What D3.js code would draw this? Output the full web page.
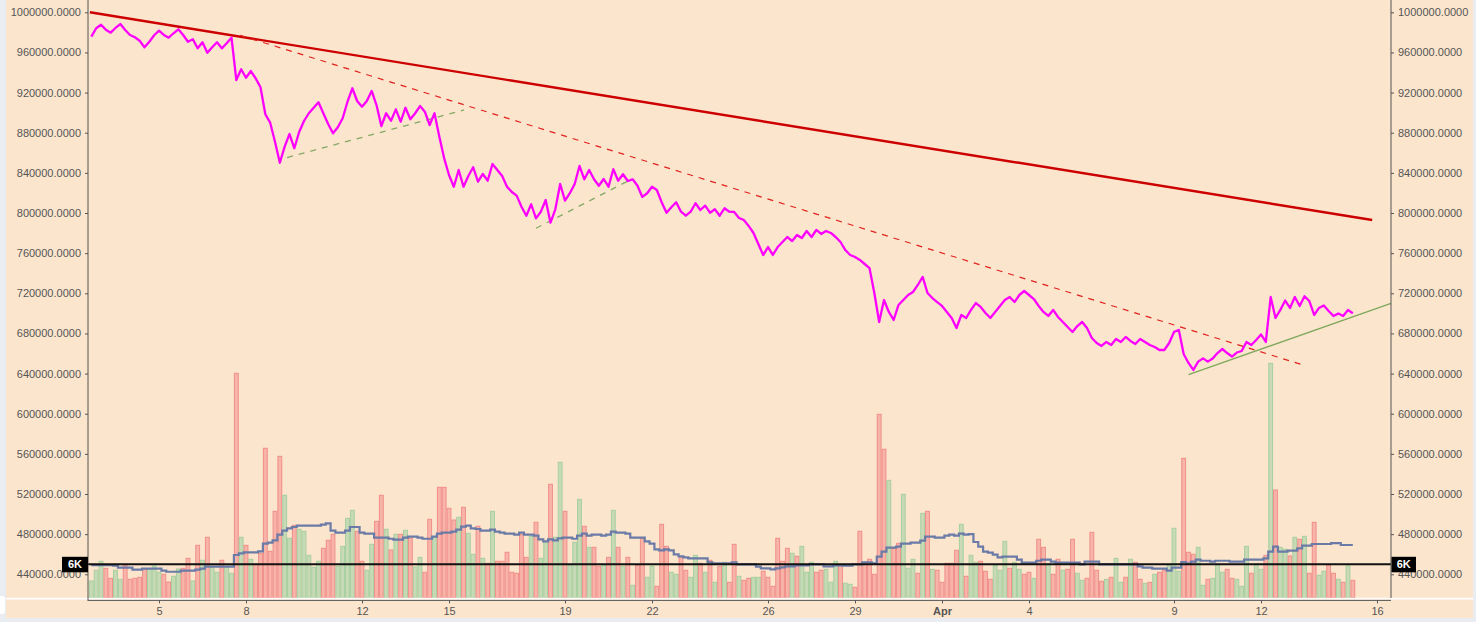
<!DOCTYPE html>
<html><head><meta charset="utf-8">
<script src="https://cdn.jsdelivr.net/npm/d3@7/dist/d3.min.js"></script>
<style>
html,body{margin:0;padding:0;background:#e9edf1;overflow:hidden;}
svg{display:block;}
text{font-family:"Liberation Sans",Arial,sans-serif;}
</style></head><body>
<svg id="c" width="1476" height="622"></svg>
<script>
// ---- data: 4-hour bars, BTC/JPY, starting 2018-03-02 16:00 UTC ----
const startTime = Date.UTC(2018, 2, 2, 16);
const stepHours = 4;

const closePrice = [
975700,984100,987600,982700,979700,984400,988300,982400,977400,975100,
971700,965100,970700,977100,981700,977400,974700,979100,983100,977400,
970700,973100,964100,970100,959700,965100,970100,964100,969100,974700,
932500,943200,934800,941500,934200,925300,898400,890000,871100,850100,
866100,878700,864500,880700,891700,899400,904900,910300,899400,888700,
879400,885400,894400,910900,924300,911600,905900,911600,921600,907600,
886700,899400,892000,903300,891000,904900,893400,899400,906600,901000,
887700,899400,876000,854500,837900,826200,842900,826200,836900,845600,
831200,838900,832200,848800,842900,836900,826200,820900,817300,806300,
797300,808700,794700,801300,813000,790400,803700,828900,812300,819700,
828900,846900,833600,842900,833600,827200,833900,826200,843600,832200,
838600,831900,833600,827200,816000,819700,826200,822900,810700,800300,
805700,810700,801300,797300,801300,809700,803000,807300,800300,803700,
797300,804700,801300,801000,795000,793000,787100,780100,769100,758100,
766100,758200,766100,771100,776100,772100,778100,775100,782100,776100,
783100,779100,782100,780100,776100,771100,763100,758200,756200,753200,
749200,745200,720300,691400,713300,701400,693400,708400,713300,718300,
721300,728300,736300,720300,715300,711300,707400,701400,695400,685400,
698400,695400,703400,710300,706400,700400,695400,701400,707400,713300,
716300,711300,718300,722300,718300,714300,707400,701400,697400,703400,
696400,691400,686400,681500,687400,691400,685400,675500,670500,667500,
671500,668500,674500,671500,676500,672500,669500,674500,671500,668500,
666500,663500,663500,670500,681500,683400,659500,650600,643600,651900,
655200,651900,655000,660500,664500,660500,657000,661000,662500,671500,
668500,673500,679000,671500,716300,695400,703400,712800,705400,716300,
707400,717000,712300,698400,705400,707900,702400,697400,699900,697400,
703400,700100];

const volume = [
3010,4930,6540,5280,3490,4930,3310,5750,3310,3490,
3670,5160,5160,5700,4570,4210,2830,3850,5160,5280,
7070,3010,9400,6720,10840,5460,4570,6720,5570,4390,
40210,10840,9400,6900,6050,7970,26780,8330,15490,25340,
18360,10660,12980,12270,11910,7610,5460,6540,8870,10300,
11370,5640,9220,14240,15670,11910,6540,4930,9580,13700,
18360,12270,8560,11370,11370,12090,10660,5520,7250,4570,
14060,10840,19790,19790,16030,13930,14420,16210,11550,7790,
12810,7070,6180,15490,6540,6540,8150,4570,4390,11370,
7250,11010,13520,7070,10120,20330,10840,24270,15490,5870,
9940,17640,12810,9040,9040,5640,5820,7250,15670,9040,
5640,7250,2240,5820,10660,3670,5640,2060,13160,9220,
4570,4210,7250,4930,3670,7610,6180,4570,6720,2780,
5640,6360,2780,9580,3850,3130,3490,3670,3670,4750,
3670,2060,10660,6540,8870,7970,7430,9220,4570,6360,
4570,4930,5100,2780,6540,5820,2600,2420,1880,11910,
6180,6900,4210,32870,26600,21040,8870,9760,18540,5280,
6900,4390,15130,15490,5100,4930,2780,6180,6180,8510,
13160,3850,7610,6360,6540,4750,3310,5820,4930,10120,
5280,6360,5100,4210,4570,3490,10480,9040,6000,4210,
6900,4930,5100,10480,4390,3130,3490,11730,4930,2960,
3310,3670,7070,2780,3670,6900,6360,3310,2600,2780,
4210,4570,4930,5820,12450,4750,24980,8150,7790,9040,
2240,3310,3490,6000,4570,5100,3490,3310,2060,9220,
4390,6000,5100,7610,42000,19310,9040,8690,7490,10840,
10480,11010,4390,13520,4030,4750,5870,4390,3310,2780,
5700,3130];

// g = up bar, r = down bar
const barDirection = (
"gggrrggrrr"+"rrgggrrggr"+"rgrgrggrgg"+"rgrgrrrrrr"+"ggrgggggrr"+
"rggggrrggr"+"rgrgrgrggr"+"rgrrrrgrgg"+"rgrgrrrrrr"+"rgrggrggrg"+
"ggrgrrgrgr"+"grgrrggrrr"+"ggrrggrgrg"+"rgrrgrrggr"+"rrrrrgrggg"+
"rrgggrggrr"+"rrrrrgrrgg"+"grgrgrrrrr"+"grggrrrggg"+"rggrrgrrgr"+
"rgrrggrrrr"+"grggrgrrgr"+"grrgggrrrg"+"grgggrrggg"+"rggrgrggrg"+
"rgrrggrrgr"+"gr").split("");

const volumeMA = [
5870,5870,5870,5870,5870,5750,5390,5390,5390,5030,
5030,5210,5210,5210,5210,4850,4670,4670,4670,4850,
4850,4850,5030,5210,5570,5570,5570,5570,5570,5570,
7670,7970,8150,8150,8150,8330,9690,9870,10300,11300,
12020,12450,12680,12910,12910,12910,12910,12910,13090,13340,
12020,11660,11660,12020,12680,12680,11660,11480,11480,10760,
10760,10760,10580,10410,10410,10760,10940,10940,10760,10580,
10580,10940,11480,11660,11660,11840,12200,12730,12910,12450,
12320,12020,12020,12200,11840,11660,11480,11480,11300,11660,
11300,11300,11120,10480,10120,10480,10300,10660,10760,10760,
10580,11120,11480,11120,11300,11300,11120,11300,11840,11660,
11660,11480,10760,10760,10760,10120,9690,8690,8510,8690,
8510,7790,7430,7250,7070,7070,7070,7070,6360,6180,
6180,6180,6180,6360,6000,6000,6000,6000,5570,5280,
5280,5100,5280,5460,5640,5640,5820,5820,5820,6000,
6000,6000,5640,5640,5820,5820,5750,5750,6000,6000,
6360,6360,6180,7360,8260,8970,8970,9150,9690,9690,
9870,9870,10230,10940,10940,10760,10760,11120,11300,11120,
11480,11300,11400,9990,9150,8260,8080,7720,7250,7360,
7360,7360,6820,6290,6290,6290,6640,6820,6820,6470,
6290,6290,6290,6290,6290,6000,6470,6470,6470,6000,
6000,6000,6000,6000,6000,6000,6000,5640,5390,5390,
5210,5210,5210,4850,5390,5390,6410,6110,6470,6820,
6640,6640,6470,6640,6640,6640,6470,6470,6470,6820,
6820,6820,6820,7070,8260,9150,8260,8260,8440,8440,
8870,9330,9330,9640,9640,9640,9640,9810,9810,9460,
9460,9460];

const priceTicks = [440000,480000,520000,560000,600000,640000,680000,720000,760000,800000,840000,880000,920000,960000,1000000];
const dateTickDays = ["2018-03-05","2018-03-08","2018-03-12","2018-03-15","2018-03-19","2018-03-22","2018-03-26","2018-03-29","2018-04-01","2018-04-04","2018-04-09","2018-04-12","2018-04-16"];
const dateTickLabels = ["5","8","12","15","19","22","26","29","Apr","4","9","12","16"];
const volumeLevel = 6000;
const volumeLevelLabel = "6K";

// trend lines: [bar index (fractional), price]
const trendMain   = [[-0.3, 1000000], [265.0, 793000]];
const trendDashed = [[30.8, 977000], [250.7, 648600]];
const supportA    = [[40.5, 855300], [77.1, 902700]];
const supportB    = [[92.0, 784800], [111.45, 832900]];
const supportC    = [[227.0, 638900], [268.9, 710000]];

// ---- drawing ----
const svg = d3.select("#c");
const L = 88, R = 1391;
const H4 = stepHours * 3600 * 1000;
const dateOf = i => new Date(startTime + i * H4);

const x = d3.scaleUtc().domain([new Date(Date.UTC(2018,2,5)), new Date(Date.UTC(2018,3,16))]).range([159, 1377]);
const y = d3.scaleLinear().domain([440000, 1000000]).range([574.3, 12.3]);
const yv = d3.scaleLinear().domain([0, 6000]).range([597.8, 564.3]);

svg.append("rect").attr("x", 6).attr("y", 0).attr("width", 1467).attr("height", 618).attr("fill", "#fce5cd");
svg.append("rect").attr("x", -4).attr("y", 596).attr("width", 9).attr("height", 18).attr("rx", 3).attr("fill", "#ffffff");

const bars = closePrice.map((p, i) => ({i, date: dateOf(i), price: p, vol: volume[i], dir: barDirection[i], ma: volumeMA[i]}));
const bw = x(dateOf(1)) - x(dateOf(0));

// volume bars
svg.append("g").selectAll("rect").data(bars).join("rect")
  .attr("x", d => x(d.date) - bw / 2 + 0.5)
  .attr("width", bw - 1)
  .attr("y", d => yv(d.vol))
  .attr("height", d => yv(0) - yv(d.vol))
  .attr("fill", d => d.dir === "g" ? "#c7d9b6" : "#f8b4a8")
  .attr("stroke", d => d.dir === "g" ? "#a6cf9e" : "#f08e8a")
  .attr("stroke-width", 1);

// volume moving average (step)
svg.append("path").datum(bars)
  .attr("d", d3.line().curve(d3.curveStep).x(d => x(d.date)).y(d => yv(d.ma)))
  .attr("fill", "none").attr("stroke", "#6a7ba7").attr("stroke-width", 2.2);

// 6K level line
svg.append("line").attr("x1", L).attr("x2", R).attr("y1", yv(volumeLevel)).attr("y2", yv(volumeLevel))
  .attr("stroke", "#111").attr("stroke-width", 2);

// bottom white band
svg.append("line").attr("x1", 6).attr("x2", 1473).attr("y1", 598.7).attr("y2", 598.7).attr("stroke", "#ffffff").attr("stroke-width", 1.8);

// trend lines
const pt = d => [x(dateOf(d[0])), y(d[1])];
function seg(a, color, w, dash) {
  const p0 = pt(a[0]), p1 = pt(a[1]);
  const l = svg.append("line").attr("x1", p0[0]).attr("y1", p0[1]).attr("x2", p1[0]).attr("y2", p1[1])
    .attr("stroke", color).attr("stroke-width", w);
  if (dash) l.attr("stroke-dasharray", dash);
}
seg(trendMain, "#cc0000", 2.4);
seg(trendDashed, "#e0221e", 1.2, "6,6");
seg(supportA, "#84a866", 1.3, "6,6");
seg(supportB, "#84a866", 1.3, "6,6");

// price line
svg.append("path").datum(bars)
  .attr("d", d3.line().x(d => x(d.date)).y(d => y(d.price)))
  .attr("fill", "none").attr("stroke", "#ff00ff").attr("stroke-width", 2.3).attr("stroke-linejoin", "round");

seg(supportC, "#7ea85c", 1.3);

// axes
const fmt = d3.format(".4f");
const ax = svg.append("g").attr("transform", `translate(${L},0)`).call(d3.axisLeft(y).tickValues(priceTicks).tickFormat(fmt).tickSize(3).tickPadding(4));
const ax2 = svg.append("g").attr("transform", `translate(${R},0)`).call(d3.axisRight(y).tickValues(priceTicks).tickFormat(fmt).tickSize(3).tickPadding(4));
const tickDates = dateTickDays.map(s => new Date(s + "T00:00:00Z"));
const ax3 = svg.append("g").attr("transform", `translate(0,600.4)`).call(d3.axisBottom(x).tickValues(tickDates).tickFormat((d, i) => dateTickLabels[i]).tickSize(3).tickPadding(4));
[ax, ax2, ax3].forEach(g => {
  g.select(".domain").remove();
  g.selectAll("line").attr("stroke", "#555");
  g.selectAll("text").attr("fill", "#555").style("font-size", "11px").style("font-family", '"Liberation Sans",Arial,sans-serif');
});
ax3.selectAll("text").filter((d, i) => dateTickLabels[i] === "Apr").style("font-weight", "bold");
svg.append("line").attr("x1", L).attr("x2", L).attr("y1", 0).attr("y2", 601).attr("stroke", "#555").attr("stroke-width", 1);
svg.append("line").attr("x1", R).attr("x2", R).attr("y1", 0).attr("y2", 598).attr("stroke", "#555").attr("stroke-width", 1);
svg.append("line").attr("x1", L).attr("x2", R).attr("y1", 600.4).attr("y2", 600.4).attr("stroke", "#555").attr("stroke-width", 1);

// 6K labels
[[62, 26], [R + 0.5, 24.5]].forEach(([bx, w]) => {
  svg.append("rect").attr("x", bx).attr("y", yv(volumeLevel) - 7.5).attr("width", w).attr("height", 15.5).attr("fill", "#000");
  svg.append("text").attr("x", bx + w / 2).attr("y", yv(volumeLevel) + 4).attr("text-anchor", "middle")
    .attr("fill", "#fff").style("font-size", "11px").style("font-weight", "bold").text(volumeLevelLabel);
});
</script>
</body></html>
